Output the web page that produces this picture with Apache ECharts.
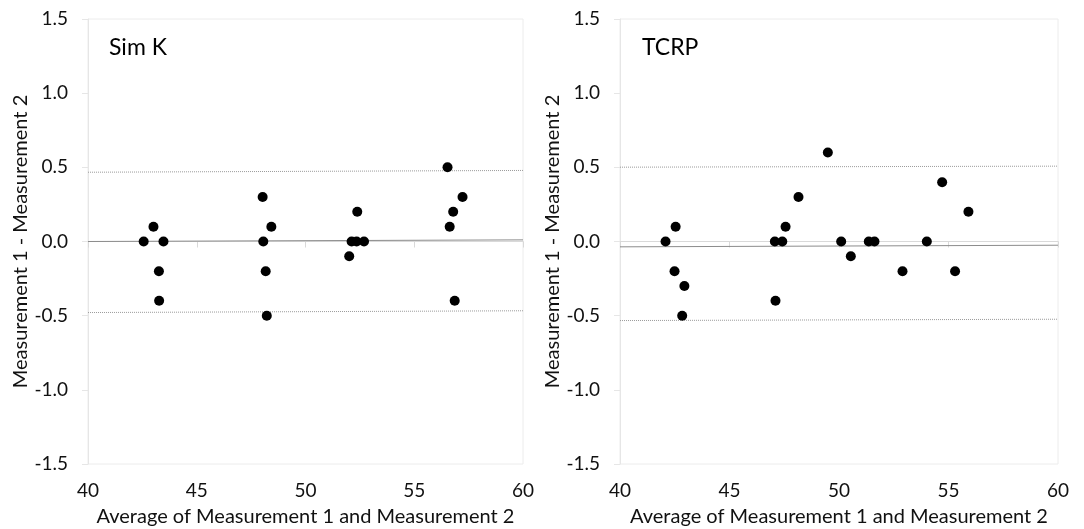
<!DOCTYPE html>
<html>
<head>
<meta charset="utf-8">
<script src="https://cdn.jsdelivr.net/npm/echarts@6/dist/echarts.min.js"></script>
<style>
html, body { margin: 0; padding: 0; background: #fff; }
#chart { width: 1084px; height: 529px; }
</style>
</head>
<body>
<div id="chart"></div>
<script>
// Bland-Altman data
var simK = [
    [42.56, 0.0], [43.01, 0.1], [43.47, 0.0], [43.26, -0.2], [43.27, -0.4],
    [48.03, 0.3], [48.43, 0.1], [48.06, 0.0], [48.17, -0.2], [48.22, -0.5],
    [52.38, 0.2], [52.12, 0.0], [52.35, 0.0], [52.69, 0.0], [52.01, -0.1],
    [56.53, 0.5], [57.22, 0.3], [56.79, 0.2], [56.63, 0.1], [56.86, -0.4]
];
var tcrp = [
    [42.08, 0.0], [42.54, 0.1], [42.49, -0.2], [42.94, -0.3], [42.84, -0.5],
    [47.07, 0.0], [47.41, 0.0], [47.56, 0.1], [48.15, 0.3], [47.10, -0.4],
    [49.49, 0.6], [50.10, 0.0], [50.54, -0.1], [51.36, 0.0], [51.62, 0.0],
    [52.90, -0.2], [54.01, 0.0], [54.71, 0.4], [55.30, -0.2], [55.91, 0.2]
];
// mean and limits of agreement lines (start, end)
var simKMean = [[40, 0.0], [60, 0.011]];
var simKUpper = [[40, 0.467], [60, 0.479]];
var simKLower = [[40, -0.479], [60, -0.467]];
var tcrpMean = [[40, -0.036], [60, -0.025]];
var tcrpUpper = [[40, 0.501], [60, 0.508]];
var tcrpLower = [[40, -0.533], [60, -0.524]];

var panelTitles = ['Sim K', 'TCRP'];
var xTitle = 'Average of Measurement 1 and Measurement 2';
var yTitle = 'Measurement 1 - Measurement 2';

var font = 'Lato, "Open Sans", sans-serif';
var chart = echarts.init(document.getElementById('chart'));

function xAxis(idx) {
    return {
        gridIndex: idx, type: 'value', min: 40, max: 60, interval: 5,
        name: xTitle, nameLocation: 'middle', nameGap: 43,
        nameTextStyle: { color: '#111', fontSize: 20, fontFamily: font },
        axisLine: { show: true, lineStyle: { color: '#d9d9d9', width: 1 } },
        axisTick: { show: true, length: 6, lineStyle: { color: '#d9d9d9' } },
        axisLabel: { color: '#111', fontSize: 19, fontFamily: font, margin: 17 },
        splitLine: { show: false }
    };
}
function yAxis(idx) {
    return {
        gridIndex: idx, type: 'value', min: -1.5, max: 1.5, interval: 0.5,
        name: yTitle, nameLocation: 'middle', nameGap: 54, nameRotate: 90,
        nameTextStyle: { color: '#111', fontSize: 20, fontFamily: font },
        axisLine: { show: true, onZero: false, lineStyle: { color: '#e6e6e6', width: 1 } },
        axisTick: { show: true, length: 6, lineStyle: { color: '#e6e6e6' } },
        axisLabel: {
            color: '#111', fontSize: 19, fontFamily: font, margin: 20,
            formatter: function (v) { return v.toFixed(1); }
        },
        splitLine: { show: false }
    };
}
function lineSeries(idx, data, type, color) {
    return {
        type: 'line', xAxisIndex: idx, yAxisIndex: idx, data: data,
        symbol: 'none', silent: true, z: 1,
        lineStyle: { color: color, width: 1, type: type }
    };
}
function dots(idx, data) {
    return {
        type: 'scatter', xAxisIndex: idx, yAxisIndex: idx, data: data,
        symbolSize: 10, itemStyle: { color: '#000', opacity: 1 }, z: 3
    };
}

var option = {
    animation: false,
    backgroundColor: '#fff',
    title: [
        { text: panelTitles[0], left: 104, top: 31,
          textStyle: { fontSize: 23, fontWeight: 'normal', color: '#000', fontFamily: font } },
        { text: panelTitles[1], left: 637, top: 31,
          textStyle: { fontSize: 23, fontWeight: 'normal', color: '#000', fontFamily: font } }
    ],
    grid: [
        { left: 88, right: 561, top: 19, bottom: 65, outerBoundsMode: 'none',
          show: true, borderColor: '#ececec', borderWidth: 1 },
        { left: 620, right: 26, top: 19, bottom: 65, outerBoundsMode: 'none',
          show: true, borderColor: '#ececec', borderWidth: 1 }
    ],
    xAxis: [xAxis(0), xAxis(1)],
    yAxis: [yAxis(0), yAxis(1)],
    series: [
        lineSeries(0, simKMean, 'solid', '#8c8c8c'),
        lineSeries(0, simKUpper, 'dotted', '#9a9a9a'),
        lineSeries(0, simKLower, 'dotted', '#9a9a9a'),
        dots(0, simK),
        lineSeries(1, tcrpMean, 'solid', '#8c8c8c'),
        lineSeries(1, tcrpUpper, 'dotted', '#9a9a9a'),
        lineSeries(1, tcrpLower, 'dotted', '#9a9a9a'),
        dots(1, tcrp)
    ]
};
chart.setOption(option);
</script>
</body>
</html>
